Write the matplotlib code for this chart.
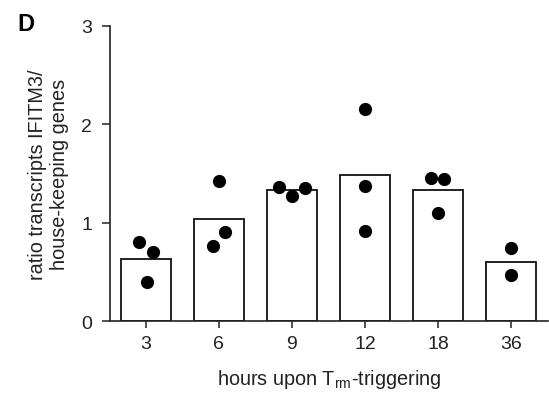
import matplotlib
matplotlib.use("Agg")
import matplotlib.pyplot as plt
import numpy as np

plt.rcParams['font.family'] = ['Liberation Sans', 'DejaVu Sans']

# hours after triggering
hours = ['3', '6', '9', '12', '18', '36']
# mean ratio (bar height)
means = [0.635, 1.035, 1.33, 1.485, 1.337, 0.604]
# single replicates
reps = [
    [0.80, 0.70, 0.40],
    [1.42, 0.90, 0.76],
    [1.36, 1.27, 1.35],
    [2.16, 1.37, 0.92],
    [1.45, 1.44, 1.10],
    [0.74, 0.465],
]
# small horizontal jitter as in the figure
jit = [
    [-0.09, 0.10, 0.01],
    [0.0, 0.09, -0.085],
    [-0.17, 0.0, 0.18],
    [0.0, 0.0, 0.0],
    [-0.09, 0.085, 0.0],
    [0.0, 0.0],
]

fig = plt.figure(figsize=(5.49, 4.02), dpi=100)
ax = fig.add_axes([0.2004, 0.199, 0.797, 0.734])

x = np.arange(len(hours))
ax.bar(x, means, width=0.68, color='white', edgecolor='#111111', linewidth=1.3, zorder=1)
for i in range(len(hours)):
    ax.scatter(x[i] + np.array(jit[i]), reps[i], s=72, color='black', zorder=3)

ax.set_xlim(-0.49, 5.5)
ax.set_ylim(0, 3)
ax.set_yticks([0, 1, 2, 3])
ax.set_xticks(x)
ax.set_xticklabels(hours)
ax.spines['top'].set_visible(False)
ax.spines['right'].set_visible(False)
for s in ['left', 'bottom']:
    ax.spines[s].set_linewidth(1.2)
    ax.spines[s].set_color('#222222')
ax.tick_params(axis='both', width=1.1, colors='#222222', labelsize=14, labelcolor='#222222')
ax.tick_params(axis='x', length=5, pad=5)
ax.tick_params(axis='y', length=6, pad=7)

ax.set_ylabel('ratio transcripts IFITM3/\nhouse-keeping genes', fontsize=14.3, color='#222222', labelpad=9, linespacing=1.2)
ax.set_xlabel(r'hours upon T$_{\mathregular{rm}}$-triggering', fontsize=14.3, color='#222222', labelpad=11)

fig.text(0.031, 0.94, 'D', fontsize=17, fontweight='bold', va='center', ha='left')

fig.savefig('out.png', dpi=100)
